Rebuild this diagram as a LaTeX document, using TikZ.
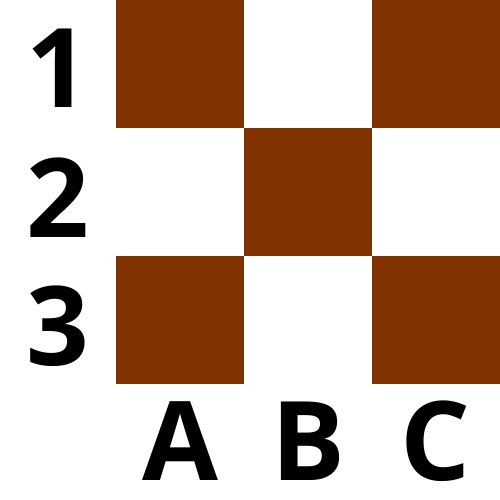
\documentclass[tikz,border=0pt]{standalone}
\usepackage{fontspec}
\newfontfamily\labfont{Open Sans}
\definecolor{brownsq}{HTML}{803300}
\begin{document}
\begin{tikzpicture}[x=1pt,y=-1pt,
  sq/.style={fill=brownsq,draw=none},
  lab/.style={anchor=base,inner sep=0pt,font=\labfont\bfseries\fontsize{110}{110}\selectfont}]
\useasboundingbox (0,0) rectangle (500,500);
\fill[white] (0,0) rectangle (500,500);
\path[sq] (116,0) rectangle (244,128);
\path[sq] (372,0) rectangle (500,128);
\path[sq] (244,128) rectangle (372,256);
\path[sq] (116,256) rectangle (244,384);
\path[sq] (372,256) rectangle (500,384);
\node[lab] (r1) at (58,108) {1};
\node[lab] (r2) at (58,237) {2};
\node[lab] (r3) at (58,365) {3};
\node[lab] (cA) at (180,480) {A};
\node[lab] (cB) at (308,480) {B};
\node[lab] (cC) at (436,480) {C};
\end{tikzpicture}
\end{document}
